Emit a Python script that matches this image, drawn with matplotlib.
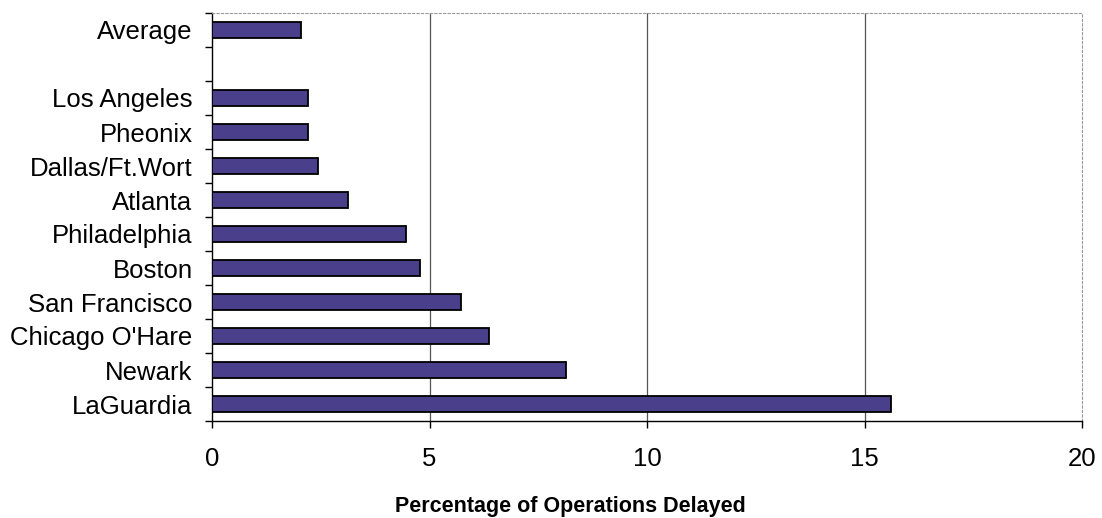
import matplotlib
matplotlib.use("Agg")
import matplotlib.pyplot as plt
import numpy as np

# Data (top to bottom as displayed)
categories = ["Average", "", "Los Angeles", "Pheonix", "Dallas/Ft.Wort", "Atlanta",
              "Philadelphia", "Boston", "San Francisco", "Chicago O'Hare", "Newark", "LaGuardia"]
values = [2.05, np.nan, 2.2, 2.2, 2.43, 3.13, 4.46, 4.78, 5.72, 6.37, 8.14, 15.6]
x_ticks = [0, 5, 10, 15, 20]
x_label = "Percentage of Operations Delayed"

plt.rcParams['font.family'] = ['Liberation Sans', 'DejaVu Sans']

fig = plt.figure(figsize=(11.02, 5.18), dpi=100)
ax = fig.add_axes([212/1102, 1 - 421/518, (1082-212)/1102, (421-13)/518])

n = len(categories)
pos = np.arange(n)[::-1]  # top category at highest y
for p, v in zip(pos, values):
    if not np.isnan(v):
        ax.barh(p, v, height=0.46, color='#4a3f8a', edgecolor='black', linewidth=1.3, zorder=3)

ax.set_xlim(0, 20)
ax.set_ylim(-0.5, n - 0.5)

# gridlines
for xv in x_ticks[1:-1]:
    ax.axvline(xv, color='#555555', linewidth=0.9, zorder=1)

# spines
ax.spines['left'].set_color('black')
ax.spines['left'].set_linewidth(1.0)
ax.spines['bottom'].set_color('black')
ax.spines['bottom'].set_linewidth(1.0)
ax.spines['top'].set_color('#999999')
ax.spines['top'].set_linestyle((0, (2, 2)))
ax.spines['top'].set_linewidth(0.8)
ax.spines['right'].set_color('#999999')
ax.spines['right'].set_linestyle((0, (2, 2)))
ax.spines['right'].set_linewidth(0.8)

# x ticks
ax.set_xticks(x_ticks)
ax.set_xticklabels([str(t) for t in x_ticks], fontsize=18.5)
ax.tick_params(axis='x', direction='out', length=5, width=1.0, pad=14, colors='black')

# y ticks: major at boundaries (no labels), minor at centers with labels
ax.set_yticks(np.arange(-0.5, n, 1.0))
ax.set_yticklabels([])
ax.tick_params(axis='y', which='major', direction='out', length=5, width=1.0)
ax.set_yticks(pos, minor=True)
ax.set_yticklabels(categories, minor=True, fontsize=18.5)
ax.tick_params(axis='y', which='minor', length=0, pad=14)

ax.set_xlabel(x_label, fontsize=15.5, fontweight='bold')
ax.xaxis.set_label_coords((570-212)/(1082-212), -(496-421)/(421-13))

fig.savefig("out.png", dpi=100)
